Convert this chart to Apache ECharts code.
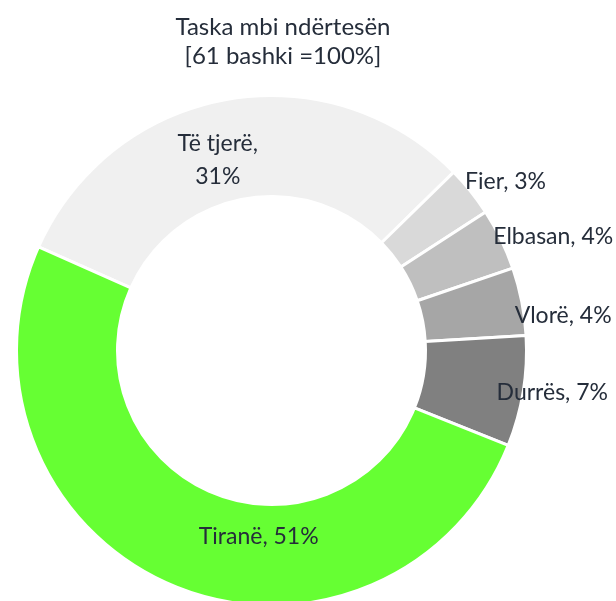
<!DOCTYPE html>
<html>
<head>
<meta charset="utf-8">
<script src="https://cdn.jsdelivr.net/npm/echarts@6/dist/echarts.min.js"></script>
<style>
  html, body { margin: 0; padding: 0; background: #fff; }
  #chart { width: 616px; height: 601px; }
</style>
</head>
<body>
<div id="chart"></div>
<script>
// slice names, clockwise from the left edge of the ring
const names = ['Të tjerë', 'Fier', 'Elbasan', 'Vlorë', 'Durrës', 'Tiranë']
// share of the total (%), labels show them rounded
const values = [31.0, 3.2, 3.9, 4.3, 7.0, 50.6]
const colors = ['#f0f0f0', '#d9d9d9', '#bfbfbf', '#a6a6a6', '#808080', '#66ff33']
// label nudges away from the ring middle (px)
const labelShift = [[-17, 14], [72, -39], [95, -23], [88, 5], [76, 9], [68, -5]]

const chart = echarts.init(document.getElementById('chart'))
const textColor = '#252d3a'
const font = 'Lato'

chart.setOption({
  animation: false,
  title: {
    text: 'Taska mbi ndërtesën\n[61 bashki =100%]',
    left: 278,
    top: 8,
    textAlign: 'center',
    textStyle: {
      fontFamily: font,
      fontSize: 24,
      fontWeight: 'normal',
      color: textColor,
      lineHeight: 29
    }
  },
  series: [
    {
      type: 'pie',
      center: [271.5, 350.5],
      radius: [154, 255],
      startAngle: 156,
      clockwise: true,
      percentPrecision: 0,
      itemStyle: { borderColor: '#fff', borderWidth: 3 },
      label: {
        show: true,
        position: 'inside',
        formatter: '{b}, {d}%',
        fontFamily: font,
        fontSize: 23,
        color: textColor,
        lineHeight: 33
      },
      labelLine: { show: false },
      labelLayout: function (params) {
        const s = labelShift[params.dataIndex]
        return { dx: s[0], dy: s[1] }
      },
      emphasis: { disabled: true },
      data: names.map((n, i) => {
        const item = { name: n, value: values[i], itemStyle: { color: colors[i] } }
        if (i === 0) item.label = { formatter: '{b},\n{d}%' }
        return item
      })
    }
  ]
})
</script>
</body>
</html>
